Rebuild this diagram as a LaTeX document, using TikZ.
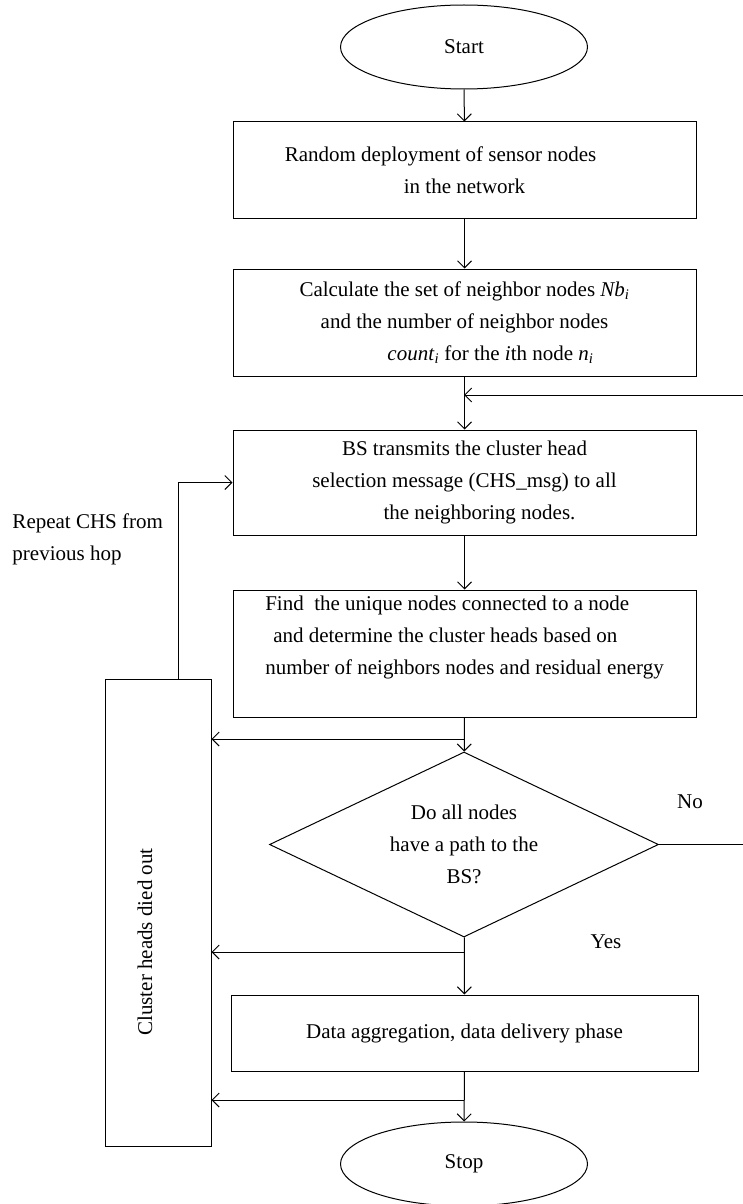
\documentclass[tikz,border=0pt]{standalone}
\usepackage{fontspec}
\setmainfont{Liberation Serif}
\usetikzlibrary{shapes.geometric, arrows.meta}

\begin{document}
\begin{tikzpicture}[x=1pt, y=-1pt, line width=1pt,
  font=\fontsize{21}{32}\selectfont,
  >={Straight Barb[length=7pt, width=14pt]},
  stepbox/.style={draw, rectangle, minimum width=463pt, inner sep=0pt},
  termshape/.style={draw, ellipse, minimum width=247pt, minimum height=84pt, inner sep=0pt},
  decshape/.style={draw, diamond, aspect=2.1, minimum width=389pt, minimum height=185pt, inner sep=0pt, align=center},
  note/.style={inner sep=0pt, align=left}]
\useasboundingbox (0,0) rectangle (743,1204);
% main column
\node[termshape] (start) at (464,47) {Start};
\node[stepbox, minimum height=96pt, align=center] (deploy) at (464.5,170) {Random deployment of sensor nodes\hspace*{48pt}\\in the network};
\node[stepbox, minimum height=107pt, align=center] (calc) at (464.5,322.5) {Calculate the set of neighbor nodes \textit{Nb}\textsubscript{\textit{i}}\\and the number of neighbor nodes\\\hspace*{52pt}\textit{count}\textsubscript{\textit{i}} for the \textit{i}th node \textit{n}\textsubscript{\textit{i}}};
\node[stepbox, minimum height=105pt, align=center] (bstx) at (464.5,482.5) {BS transmits the cluster head\\selection message (CHS\_msg) to all\hspace*{14pt}\\\hspace*{30pt}the neighboring nodes.};
\node[stepbox, minimum height=127pt, align=left] (find) at (464.5,653.5) {Find\ \ the unique nodes connected to a node\\\hspace*{8pt}and determine the cluster heads based on\\number of neighbors nodes and residual energy\\[4pt]};
\node[decshape] (dec) at (464,844.5) {Do all nodes\\have a path to the\\BS?};
\node[stepbox, minimum width=467pt, minimum height=76pt] (data) at (464.5,1033) {Data aggregation, data delivery phase};
\node[termshape] (stop) at (464,1164) {Stop};
% side box
\node[draw, rectangle, minimum width=106pt, minimum height=467pt, inner sep=0pt] (died) at (158,912.5) {};
\node[rotate=90, inner sep=0pt] (diedlbl) at (145,942) {Cluster heads died out};
\node[note, anchor=west] (repeat) at (12,539) {Repeat CHS from\\previous hop};
\node[inner sep=0pt] (no) at (690,802) {No};
\node[inner sep=0pt] (yes) at (606,942) {Yes};
% junctions
\coordinate (jn1) at (464,395);
\coordinate (jn2) at (464,739);
\coordinate (jn3) at (464,952);
\coordinate (jn4) at (464,1100);
\coordinate (rt) at (743,395);
% connectors
\draw[->] (start) -- (deploy);
\draw[->] (deploy) -- (calc);
\draw[->] (calc) -- (bstx);
\draw[->] (bstx) -- (find);
\draw[->] (find) -- (dec);
\draw[->] (dec) -- (data);
\draw[->] (data) -- (stop);
\draw[->] (dec.east) -| (rt) -- (jn1);
\draw[->] (jn2) -- (jn2 -| died.east);
\draw[->] (jn3) -- (jn3 -| died.east);
\draw[->] (jn4) -- (jn4 -| died.east);
\draw[->] ([xshift=20pt]died.north) |- (bstx.west);
\end{tikzpicture}
\end{document}
